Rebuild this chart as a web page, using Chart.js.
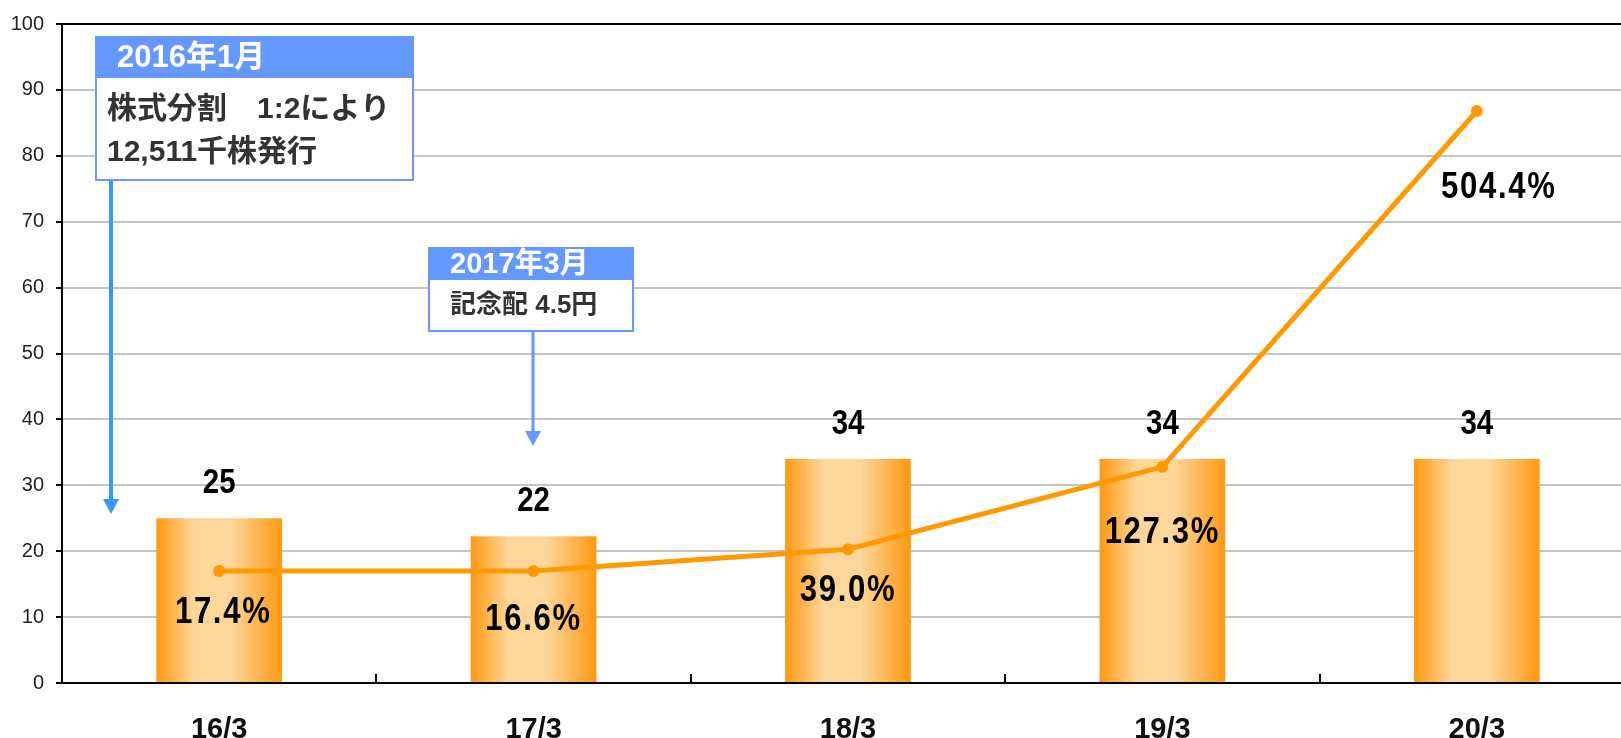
<!DOCTYPE html>
<html lang="ja">
<head>
<meta charset="utf-8">
<script src="https://cdn.jsdelivr.net/npm/chart.js@4.4.1/dist/chart.umd.min.js"></script>
<style>
  html, body { margin: 0; padding: 0; background: #fff; overflow: hidden; }
  /* 元図は右端が切れているので、キャンバスを少し広く取る */
  #wrap { width: 1640px; height: 738px; position: relative; }
</style>
</head>
<body>
<div id="wrap"><canvas id="dividendChart"></canvas></div>
<script>
// 配当金の推移と配当性向
const categories = ['16/3', '17/3', '18/3', '19/3', '20/3'];
const dividends = [25, 22.25, 34, 34, 34];
const dividendLabels = ['25', '22', '34', '34', '34'];
const payoutLine = [17.0, 17.0, 20.3, 32.8, 86.8];
const payoutLabels = ['17.4%', '16.6%', '39.0%', '127.3%', '504.4%'];
const yMin = 0, yMax = 100, yStep = 10;

const noteSplit = { head: '2016年1月', body: ['株式分割　1:2により', '12,511千株発行'] };
const noteMemorial = { head: '2017年3月', body: ['記念配 4.5円'] };

const latin = "'Liberation Sans', Arial, sans-serif";
const jpFont = "'Liberation Sans', 'Noto Sans CJK JP', sans-serif";
const boxBlue = '#6699FF';

function barGradient(context) {
    const chart = context.chart;
    const area = chart.chartArea;
    if (!area || !chart.scales.x) return '#FF9A14';
    const cx = chart.scales.x.getPixelForValue(context.dataIndex);
    const w = (area.right - area.left) / categories.length * 0.4;
    const g = chart.ctx.createLinearGradient(cx - w / 2, 0, cx + w / 2, 0);
    g.addColorStop(0, '#FF9912');
    g.addColorStop(0.3, '#FDD699');
    g.addColorStop(0.6, '#FDD699');
    g.addColorStop(1, '#FF9912');
    return g;
}

// 横方向に少し詰めて描く（細身のゴシック体に寄せる）
function narrowText(ctx, text, x, y, sx) {
    ctx.save();
    ctx.translate(x, y);
    ctx.scale(sx, 1);
    ctx.fillText(text, 0, 0);
    ctx.restore();
}

// 値ラベル・x軸の内向き目盛り
const labelPlugin = {
    id: 'labelPlugin',
    afterDatasetsDraw(chart) {
        const ctx = chart.ctx;
        const area = chart.chartArea;
        const xs = chart.scales.x, ys = chart.scales.y;

        ctx.save();
        ctx.strokeStyle = '#000';
        ctx.lineWidth = 2;
        const step = (area.right - area.left) / categories.length;
        for (let i = 1; i < categories.length; i++) {
            const x = Math.round(area.left + step * i);
            ctx.beginPath();
            ctx.moveTo(x, area.bottom);
            ctx.lineTo(x, area.bottom - 9);
            ctx.stroke();
        }

        ctx.fillStyle = '#000';
        ctx.textAlign = 'center';
        ctx.textBaseline = 'middle';
        ctx.font = 'bold 35px ' + latin;
        dividendLabels.forEach((t, i) => {
            narrowText(ctx, t, xs.getPixelForValue(i), ys.getPixelForValue(dividends[i]) - 35, 0.84);
        });

        const pctOffsets = [[4, 42], [0, 49], [0, 42], [0, 66], [22, 77]];
        ctx.font = 'bold 37px ' + latin;
        if ('letterSpacing' in ctx) ctx.letterSpacing = '2px';
        payoutLabels.forEach((t, i) => {
            narrowText(ctx, t, xs.getPixelForValue(i) + pctOffsets[i][0], ys.getPixelForValue(payoutLine[i]) + pctOffsets[i][1], 0.84);
        });
        ctx.restore();
    },
    afterDraw(chart) {
        const ctx = chart.ctx;
        ctx.save();

        // 矢印
        function arrow(x, y1, y2, width, color) {
            ctx.strokeStyle = color;
            ctx.fillStyle = color;
            ctx.lineWidth = width;
            ctx.beginPath();
            ctx.moveTo(x, y1);
            ctx.lineTo(x, y2 - 14);
            ctx.stroke();
            ctx.beginPath();
            ctx.moveTo(x - 8, y2 - 15);
            ctx.lineTo(x + 8, y2 - 15);
            ctx.lineTo(x, y2);
            ctx.closePath();
            ctx.fill();
        }
        arrow(111, 180, 514, 4, '#3399FF');
        arrow(533, 331, 446, 3, boxBlue);

        // 注記ボックス
        function note(n, x, y, w, headH, bodyH, headFont, bodyFont, bodyX, lineGap) {
            ctx.fillStyle = '#fff';
            ctx.fillRect(x, y, w, headH + bodyH);
            ctx.fillStyle = boxBlue;
            ctx.fillRect(x, y, w, headH);
            ctx.strokeStyle = boxBlue;
            ctx.lineWidth = 2;
            ctx.strokeRect(x, y, w, headH + bodyH);
            ctx.textAlign = 'left';
            ctx.textBaseline = 'middle';
            ctx.fillStyle = '#fff';
            ctx.font = headFont;
            ctx.fillText(n.head, x + 21, y + headH / 2 + 1);
            ctx.fillStyle = '#333';
            ctx.font = bodyFont;
            n.body.forEach((line, i) => {
                ctx.fillText(line, x + bodyX, y + headH + (n.body.length === 1 ? bodyH / 2 : 32 + i * lineGap));
            });
        }
        note(noteSplit, 96, 37, 317, 41, 102, 'bold 31px ' + jpFont, 'bold 30px ' + jpFont, 11, 43);
        note(noteMemorial, 429, 248, 204, 32, 51, 'bold 29px ' + jpFont, 'bold 26px ' + jpFont, 21, 0);
        ctx.restore();
    }
};

new Chart(document.getElementById('dividendChart').getContext('2d'), {
    data: {
        labels: categories,
        datasets: [{
            type: 'line',
            label: '配当性向',
            data: payoutLine,
            borderColor: '#FF9900',
            backgroundColor: '#FF9900',
            borderWidth: 5,
            pointRadius: 6,
            pointBackgroundColor: '#FF9900',
            pointBorderWidth: 0,
            tension: 0,
            order: 0
        }, {
            type: 'bar',
            label: '配当金',
            data: dividends,
            backgroundColor: barGradient,
            borderWidth: 0,
            categoryPercentage: 1,
            barPercentage: 0.4,
            order: 1
        }]
    },
    options: {
        responsive: true,
        maintainAspectRatio: false,
        animation: false,
        layout: { padding: { top: 23, left: 0, right: 0, bottom: 0 } },
        plugins: {
            legend: { display: false },
            tooltip: { enabled: false }
        },
        scales: {
            x: {
                grid: { display: false },
                border: { display: true, color: '#000', width: 2 },
                ticks: {
                    color: '#111',
                    padding: 22,
                    font: { family: latin, size: 29, weight: 'bold' }
                },
                afterFit(scale) {
                    scale.height = 55;
                    scale.paddingLeft = 0;
                    scale.paddingRight = 0;
                }
            },
            y: {
                min: yMin,
                max: yMax,
                ticks: {
                    stepSize: yStep,
                    color: '#222',
                    padding: 12,
                    font: { family: latin, size: 20 }
                },
                grid: {
                    color: ctx => (ctx.tick && ctx.tick.value === yMax ? '#000' : '#C4C4C4'),
                    lineWidth: 2,
                    tickColor: '#000',
                    tickLength: 6,
                    tickWidth: 2
                },
                border: { display: true, color: '#000', width: 2 },
                afterFit(scale) { scale.width = 62; }
            }
        }
    },
    plugins: [labelPlugin]
});
</script>
</body>
</html>
